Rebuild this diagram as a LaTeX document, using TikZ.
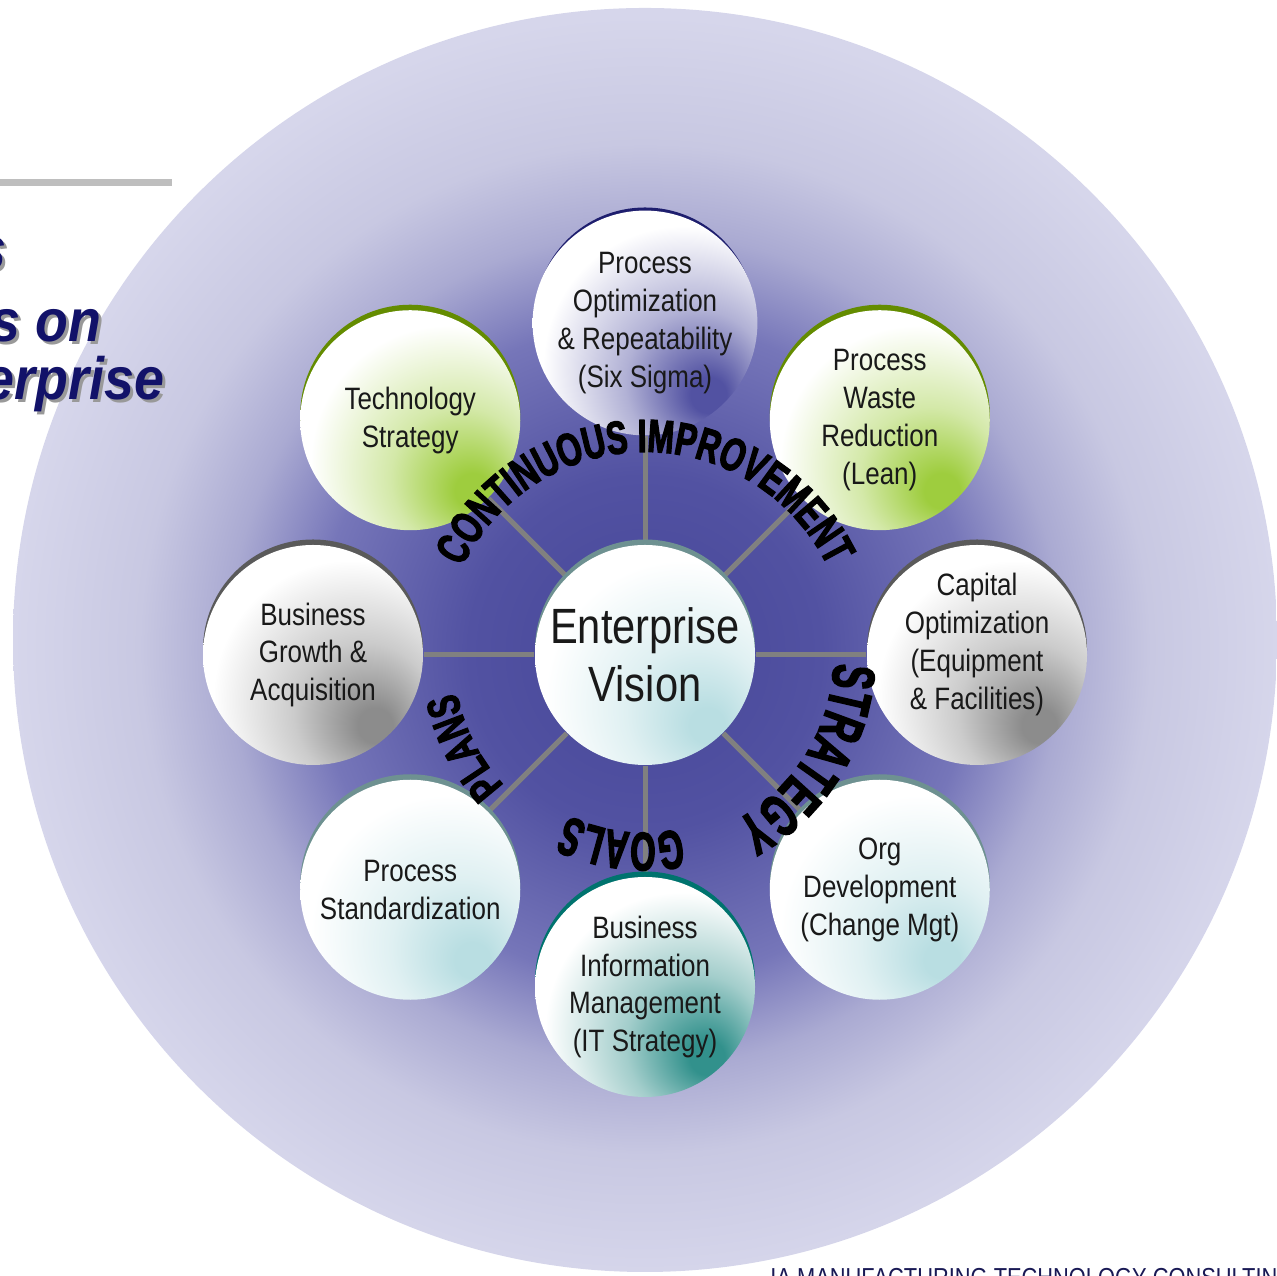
\documentclass[tikz,border=0pt]{standalone}
\usepackage{fontspec}
\setmainfont{Liberation Sans}[FakeStretch=0.84]
\newfontfamily\arcfont{Liberation Sans}[FakeStretch=0.68, BoldFeatures={FakeBold=2.5}]
\newfontfamily\arctall{Liberation Sans}[FakeStretch=0.6, BoldFeatures={FakeBold=2.5}]
\newfontfamily\headfont{Liberation Sans}[FakeStretch=0.9]
\usetikzlibrary{positioning,decorations.text}

\definecolor{halo0}{RGB}{70,70,152}
\definecolor{halo1}{RGB}{82,82,162}
\definecolor{halo2}{RGB}{118,118,185}
\definecolor{halo3}{RGB}{170,170,210}
\definecolor{halo4}{RGB}{200,200,226}
\definecolor{halo5}{RGB}{214,214,235}
\definecolor{tintgreen}{RGB}{158,205,62}
\definecolor{tintnavy}{RGB}{82,82,162}
\definecolor{tintgray}{RGB}{140,140,140}
\definecolor{tintlteal}{RGB}{185,222,226}
\definecolor{tintteal}{RGB}{50,145,140}
\definecolor{rimgreen}{RGB}{100,140,0}
\definecolor{rimnavy}{RGB}{30,30,110}
\definecolor{rimgray}{RGB}{90,90,90}
\definecolor{rimlteal}{RGB}{110,145,145}
\definecolor{rimteal}{RGB}{0,115,110}
\definecolor{spokegray}{RGB}{128,128,128}
\definecolor{rulegray}{RGB}{190,190,190}
\definecolor{headblue}{RGB}{18,18,105}
\definecolor{footblue}{RGB}{25,25,85}

\pgfdeclareradialshading{halo}{\pgfpoint{0bp}{-0.6bp}}{color(0bp)=(halo0); color(7bp)=(halo1); color(13bp)=(halo2); color(16.5bp)=(halo3); color(20bp)=(halo4); color(25bp)=(halo5); color(50bp)=(halo5)}
\newcommand\orbshading[1]{\pgfdeclareradialshading{orb#1}{\pgfpoint{15bp}{-17bp}}{color(0bp)=(tint#1); color(4bp)=(tint#1); color(16bp)=(tint#1!45!white); color(31bp)=(white); color(70bp)=(white)}}
\orbshading{green}
\orbshading{navy}
\orbshading{gray}
\orbshading{lteal}
\orbshading{teal}

\pgfdeclarelayer{halo}
\pgfdeclarelayer{links}
\pgfsetlayers{halo,links,main}

\begin{document}
\begin{tikzpicture}[x=0.1mm, y=0.1mm,
    orb/.style={circle, inner sep=0pt, minimum size=22mm, shade, shading=orb#1, align=center,
      font=\fontsize{8.8}{10.8}\selectfont, text=black!90},
    spoke/.style={draw=spokegray, line width=0.5mm},
    head/.style={anchor=base east, inner sep=0pt, font=\headfont\bfseries\itshape\fontsize{17}{20}\selectfont},
    arcword/.style={decorate, decoration={text along path, text align=center, text={#1}}}]
    \useasboundingbox (0,0) rectangle (1276,1276);
    \clip (0,0) rectangle (1276,1276);

    % slide remnants on the left
    \fill[rulegray] (0,1090) rectangle (172,1097);
    \foreach \t/\x/\y in {s/7/1006, s on/102/934, erprise/165/876} {
        \node[head, text=black!40] at (\x+3,\y-3) {\t};
        \node[head, text=headblue] (h\x) at (\x,\y) {\t};
    }
    \node[anchor=base west, text=footblue, font=\fontsize{7.4}{9}\selectfont] (foot) at (758,-10) {IA MANUFACTURING TECHNOLOGY CONSULTING};

    \begin{pgfonlayer}{halo}
        \shade[shading=halo] (645,636) circle (632);
    \end{pgfonlayer}

    % centre and the ring of eight
    \node[orb=lteal, font=\fontsize{14.1}{16.4}\selectfont] (ev) at (645,621) {Enterprise\\Vision};
    \node[orb=navy] (sixsigma) at ([shift={(90:332)}]ev.center) {Process\\Optimization\\\& Repeatability\\(Six Sigma)};
    \node[orb=green] (lean) at ([shift={(45:332)}]ev.center) {Process\\Waste\\Reduction\\(Lean)};
    \node[orb=gray] (capital) at ([shift={(0:332)}]ev.center) {Capital\\Optimization\\(Equipment\\\& Facilities)\\[-3pt]\mbox{}};
    \node[orb=lteal] (orgdev) at ([shift={(-45:332)}]ev.center) {Org\\Development\\(Change Mgt)};
    \node[orb=teal] (itstrat) at ([shift={(-90:332)}]ev.center) {Business\\Information\\Management\\(IT Strategy)};
    \node[orb=lteal] (standard) at ([shift={(-135:332)}]ev.center) {Process\\Standardization};
    \node[orb=gray] (growth) at ([shift={(180:332)}]ev.center) {Business\\Growth \&\\Acquisition};
    \node[orb=green] (techstrat) at ([shift={(135:332)}]ev.center) {Technology\\Strategy};

    \begin{pgfonlayer}{links}
        \foreach \n in {sixsigma,lean,capital,orgdev,itstrat,standard,growth,techstrat}
            \draw[spoke] (ev) -- (\n);
        \foreach \n/\c in {ev/rimlteal, sixsigma/rimnavy, lean/rimgreen, capital/rimgray, orgdev/rimlteal,
                           itstrat/rimteal, standard/rimlteal, growth/rimgray, techstrat/rimgreen}
            \fill[\c] ([yshift=0.55mm]\n.center) circle (110);
    \end{pgfonlayer}

    % words round the ring
    \path[arcword={|\arcfont\bfseries\fontsize{13.2}{15}\selectfont|CONTINUOUS IMPROVEMENT}]
        ([shift={(152:203)}]ev.center) arc[start angle=152, end angle=28, radius=203];
    \path[arcword={|\arctall\bfseries\fontsize{17}{19}\selectfont|STRATEGY}]
        ([shift={(2:189)}]ev.center) arc[start angle=2, end angle=-66, radius=189];
    \path[arcword={|\arctall\bfseries\fontsize{15.4}{17}\selectfont|GOALS}]
        ([shift={(-70:178)}]ev.center) arc[start angle=-70, end angle=-124, radius=178];
    \path[arcword={|\arcfont\bfseries\fontsize{13}{15}\selectfont|PLANS}]
        ([shift={(-130:192)}]ev.center) arc[start angle=-130, end angle=-176, radius=192];
\end{tikzpicture}
\end{document}
